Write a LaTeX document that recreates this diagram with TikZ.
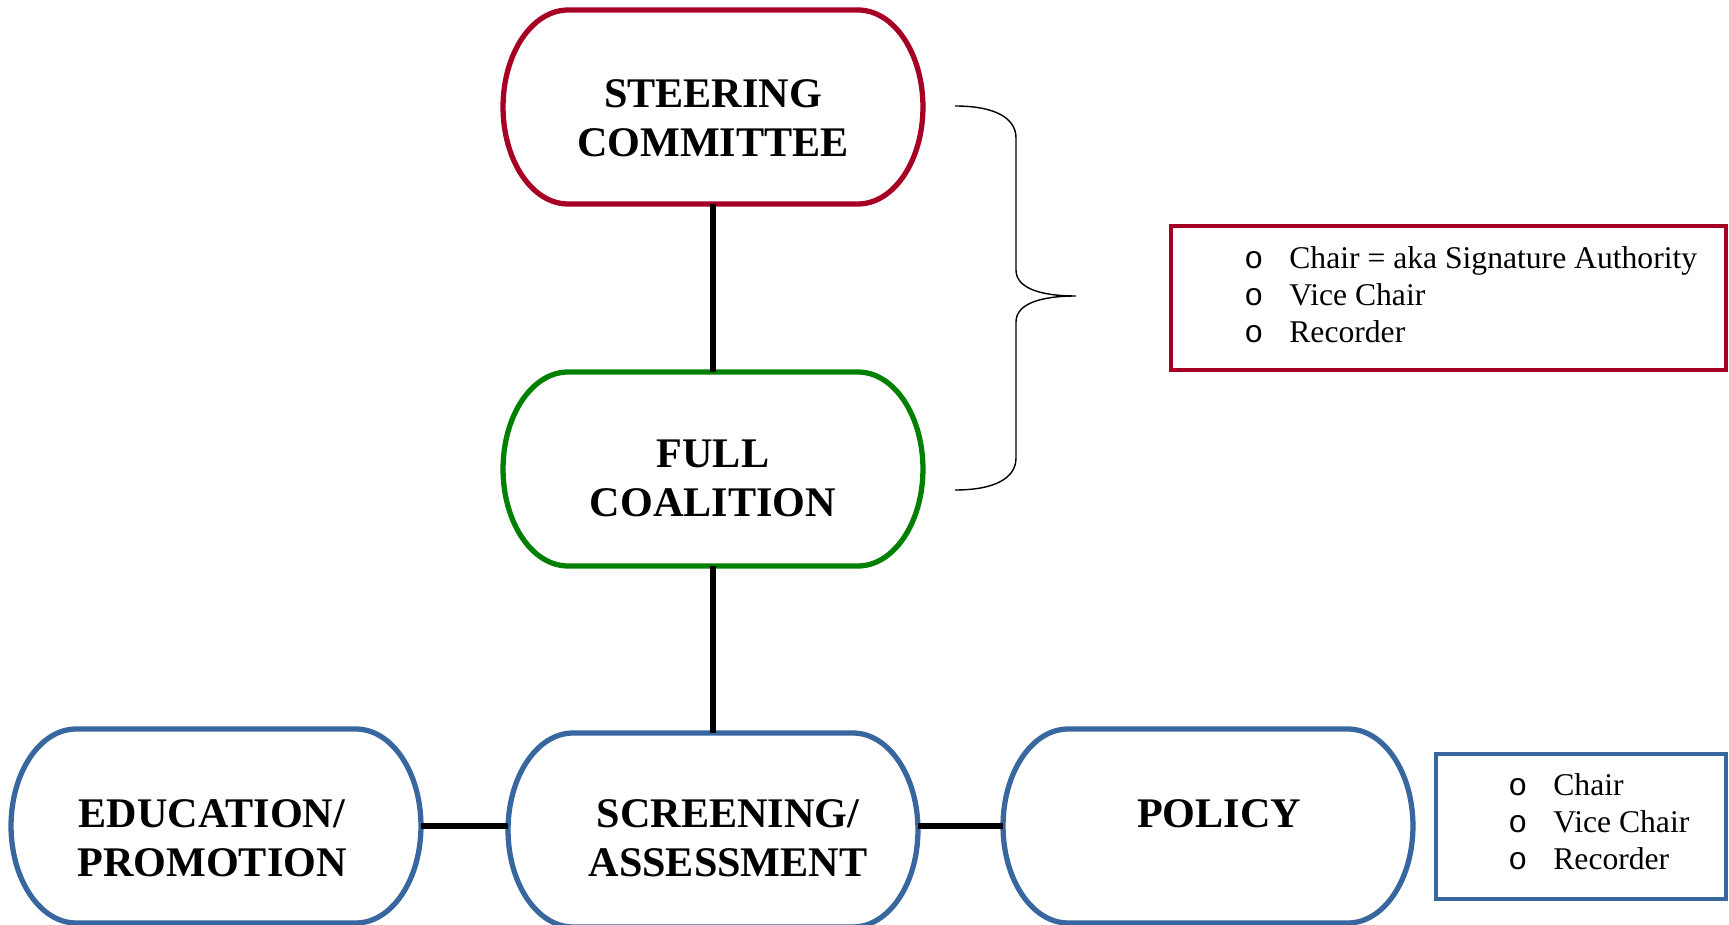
\documentclass[tikz,border=0pt]{standalone}
\usepackage{fontspec}
\setmainfont{Liberation Serif}
\newfontfamily\bulletfont{Liberation Mono}
\usetikzlibrary{calc}
\definecolor{steerred}{RGB}{166,0,36}
\definecolor{fullgreen}{RGB}{0,128,0}
\definecolor{teamblue}{RGB}{56,102,158}
\newcommand{\termedge}[2]{%
\draw[line width=3pt,#2] ([xshift=1.3cm]#1.north west) -- ([xshift=-1.3cm]#1.north east)
  arc[start angle=90,end angle=-90,x radius=1.3cm,y radius=1.94cm]
  -- ([xshift=1.3cm]#1.south west)
  arc[start angle=270,end angle=90,x radius=1.3cm,y radius=1.94cm] -- cycle;}
\newcommand{\bul}{\makebox[0.9cm][l]{\bulletfont\fontsize{18}{21}\selectfont o}}

\begin{document}
\begin{tikzpicture}[x=0.02cm,y=0.02cm,
term/.style={minimum height=3.88cm,inner sep=0pt,outer sep=0pt},
termtext/.style={font=\fontsize{24}{28}\selectfont\bfseries,align=center,inner sep=0pt},
link/.style={line width=3pt,black},
infobox/.style={draw,line width=2.2pt,inner sep=0pt,outer sep=0pt},
infolist/.style={font=\fontsize{18}{21}\selectfont,align=left,inner sep=0pt}]
\useasboundingbox (0,0) rectangle (1729,924);
\node[term,minimum width=8.4cm] (steer) at (713,817) {};
\node[term,minimum width=8.4cm] (full) at (713,455) {};
\node[term,minimum width=8.2cm] (educ) at (216,98) {};
\node[term,minimum width=8.2cm] (screen) at (713,94) {};
\node[term,minimum width=8.2cm] (policy) at (1208,98) {};
\termedge{steer}{steerred}
\termedge{full}{fullgreen}
\termedge{educ}{teamblue}
\termedge{screen}{teamblue}
\termedge{policy}{teamblue}
\node[termtext] (steertext) at (713,805.5) {STEERING\\COMMITTEE};
\node[termtext] (fulltext) at (713,445.5) {FULL\\COALITION};
\node[termtext] (eductext) at (212,86) {EDUCATION/\\PROMOTION};
\node[termtext] (screentext) at (728,86) {SCREENING/\\ASSESSMENT};
\node[termtext] (policytext) at (1219,110) {POLICY};
\draw[link] (steer.south) -- (full.north);
\draw[link] (full.south) -- (screen.north);
\draw[link] (educ.east) -- (educ.east -| screen.west);
\draw[link] (policy.west) -- (policy.west -| screen.east);
\draw[line width=0.8pt] (955,818) .. controls (995,818) and (1016,806) .. (1016,786) -- (1016,654)
  .. controls (1016,636) and (1040,628) .. (1076,628)
  .. controls (1040,628) and (1016,620) .. (1016,602) -- (1016,466)
  .. controls (1016,446) and (995,434) .. (955,434);
\node[infobox,draw=steerred,minimum width=11.1cm,minimum height=2.88cm] (steerinfo) at (1448.5,626) {};
\node[infolist,anchor=west] (steerlist) at ([xshift=1.46cm,yshift=0.07cm]steerinfo.west) {\bul Chair = aka Signature Authority\\\bul Vice Chair\\\bul Recorder};
\node[infobox,draw=teamblue,minimum width=5.8cm,minimum height=2.9cm] (policyinfo) at (1581,97.5) {};
\node[infolist,anchor=west] (policylist) at ([xshift=1.44cm,yshift=0.09cm]policyinfo.west) {\bul Chair\\\bul Vice Chair\\\bul Recorder};
\end{tikzpicture}
\end{document}
